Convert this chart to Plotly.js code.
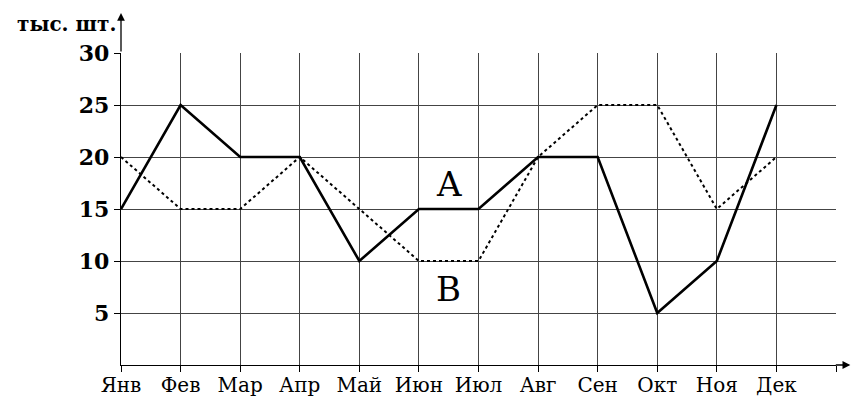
<!DOCTYPE html>
<html>
<head>
<meta charset="utf-8">
<script src="https://cdn.plot.ly/plotly-3.0.1.min.js"></script>
<style>html,body{margin:0;padding:0;background:#fff;}#chart{width:853px;height:399px;}</style>
</head>
<body>
<div id="chart"></div>
<script>
const months = ['Янв','Фев','Мар','Апр','Май','Июн','Июл','Авг','Сен','Окт','Ноя','Дек'];
const seriesA = [15, 25, 20, 20, 10, 15, 15, 20, 20, 5, 10, 25];
const seriesB = [20, 15, 15, 20, 15, 10, 10, 20, 25, 25, 15, 20];
const yTicks = [5, 10, 15, 20, 25, 30];
const unitLabel = 'тыс. шт.';
const labelA = 'A';
const labelB = 'B';

const xIdx = months.map((m, i) => i);
const serif = 'DejaVu Serif, serif';

const traces = [
  {x: xIdx, y: seriesB, mode: 'lines', line: {color: '#000', width: 2, dash: 'dot'}, hoverinfo: 'skip', cliponaxis: false},
  {x: xIdx, y: seriesA, mode: 'lines', line: {color: '#000', width: 2.6}, hoverinfo: 'skip', cliponaxis: false}
];

const tickvalsX = xIdx.concat([months.length]);
const ticktextX = months.concat(['']);

const layout = {
  width: 853, height: 399,
  margin: {l: 121, r: 17, t: 53, b: 34},
  paper_bgcolor: '#fff', plot_bgcolor: '#fff',
  showlegend: false,
  xaxis: {
    range: [0, months.length], tickvals: tickvalsX, ticktext: ticktextX,
    showgrid: true, gridcolor: '#444', gridwidth: 1,
    showline: true, linecolor: '#000', linewidth: 1.3,
    ticks: 'outside', ticklen: 6, tickcolor: '#000', tickwidth: 1,
    ticklabelstandoff: -4,
    tickfont: {family: serif, size: 20, color: '#000'},
    zeroline: false, fixedrange: true
  },
  yaxis: {
    range: [0, 30], tickvals: yTicks,
    showgrid: true, gridcolor: '#444', gridwidth: 1,
    showline: true, linecolor: '#000', linewidth: 1.3,
    ticks: 'outside', ticklen: 6, tickcolor: '#000', tickwidth: 1,
    tickfont: {family: serif, size: 22, color: '#000', weight: 'bold'},
    zeroline: false, fixedrange: true
  },
  annotations: [
    {xref: 'paper', yref: 'paper', x: 0, y: 1.128, ax: 0, ay: 40, axref: 'pixel', ayref: 'pixel',
     showarrow: true, arrowhead: 2, arrowsize: 1.2, arrowwidth: 1.3, arrowcolor: '#000', text: ''},
    {xref: 'paper', yref: 'paper', x: 1.02, y: 0, ax: -16, ay: 0, axref: 'pixel', ayref: 'pixel',
     showarrow: true, arrowhead: 2, arrowsize: 1.2, arrowwidth: 1.3, arrowcolor: '#000', text: ''},
    {xref: 'paper', yref: 'paper', x: -0.004, y: 1.092, xanchor: 'right', yanchor: 'middle', showarrow: false,
     text: '<b>' + unitLabel + '</b>', font: {family: serif, size: 20, color: '#000'}},
    {xref: 'x', yref: 'y', x: 5.5, y: 17.4, showarrow: false, text: labelA,
     font: {family: serif, size: 34, color: '#000'}},
    {xref: 'x', yref: 'y', x: 5.5, y: 7.3, showarrow: false, text: labelB,
     font: {family: serif, size: 34, color: '#000'}}
  ]
};

Plotly.newPlot('chart', traces, layout, {displayModeBar: false, staticPlot: true});
</script>
</body>
</html>
